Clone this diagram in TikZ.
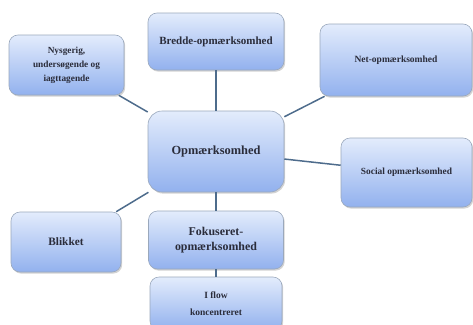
\documentclass[tikz,border=0pt]{standalone}
\usepackage{fontspec}
\setmainfont{Liberation Serif}
\usetikzlibrary{shadows}
\definecolor{boxtop}{HTML}{E3ECFC}
\definecolor{boxbot}{HTML}{92B1EE}
\definecolor{boxline}{HTML}{9AA8BC}
\definecolor{linkcol}{HTML}{4E6C8C}
\definecolor{txtcol}{HTML}{2A2C3A}
\begin{document}
\begin{tikzpicture}[x=1pt,y=-1pt,
    box/.style={draw=boxline, line width=0.6pt, rounded corners=9pt,
        top color=boxtop, bottom color=boxbot, align=center,
        text=txtcol, inner sep=2pt,
        drop shadow={shadow xshift=1.2pt, shadow yshift=-1.6pt, opacity=0.35}},
    link/.style={draw=linkcol, line width=1.5pt}]
    \useasboundingbox (0,0) rectangle (473,324);
    \node[box, minimum width=136pt, minimum height=81pt, rounded corners=14pt, font=\bfseries\fontsize{12.4}{15}\selectfont] (opm) at (216,151.5) {Opmærksomhed};
    \node[box, minimum width=136pt, minimum height=57pt, font=\bfseries\fontsize{11}{13}\selectfont] (bredde) at (216,41.5) {Bredde-opmærksomhed};
    \node[box, minimum width=115pt, minimum height=60pt, font=\bfseries\fontsize{9.3}{14}\selectfont] (nys) at (66.5,65) {Nysgerig,\\undersøgende og\\iagttagende};
    \node[box, minimum width=152pt, minimum height=72pt, font=\bfseries\fontsize{9.5}{11}\selectfont] (net) at (396,60) {Net-opmærksomhed};
    \node[box, minimum width=131pt, minimum height=69pt, font=\bfseries\fontsize{9.4}{11}\selectfont] (social) at (406.5,172.5) {Social opmærksomhed};
    \node[box, minimum width=110pt, minimum height=60pt, font=\bfseries\fontsize{11.3}{13}\selectfont] (blik) at (66,242) {Blikket};
    \node[box, minimum width=135pt, minimum height=58pt, font=\bfseries\fontsize{11.9}{15}\selectfont] (fokus) at (216,240) {Fokuseret-\\opmærksomhed};
    \node[box, minimum width=132pt, minimum height=53pt, font=\bfseries\fontsize{9.5}{17}\selectfont] (flow) at (216,303.5) {I flow\\koncentreret};

    \draw[link] (bredde) -- (opm);
    \draw[link] (nys) -- (opm);
    \draw[link] (net) -- (opm);
    \draw[link] (social) -- (opm);
    \draw[link] (blik) -- (opm);
    \draw[link] (opm) -- (fokus);
    \draw[link] (fokus) -- (flow);
\end{tikzpicture}
\end{document}
